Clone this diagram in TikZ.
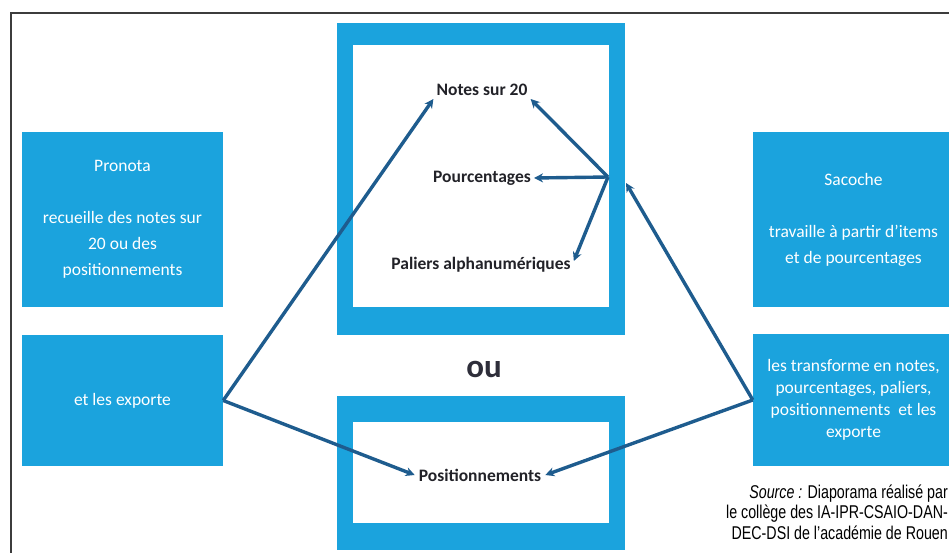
\documentclass[tikz,border=0pt]{standalone}
\usepackage{fontspec}
\setmainfont{Carlito}
\newfontfamily\srcfont[FakeStretch=0.77]{Liberation Sans}
\usetikzlibrary{arrows.meta}
\definecolor{boxblue}{RGB}{27,163,221}
\definecolor{arrowblue}{RGB}{30,92,142}
\definecolor{labeldark}{RGB}{34,34,40}
\definecolor{oucol}{RGB}{46,46,58}
\definecolor{framecol}{RGB}{60,60,60}
\tikzset{
  slidebox/.style={fill=boxblue, text=white, align=center, inner sep=0pt,
    minimum width=201pt, font=\fontsize{17.5}{26}\selectfont},
  tightbox/.style={slidebox, font=\fontsize{17.5}{22}\selectfont},
  lbl/.style={text=labeldark, font=\bfseries\fontsize{17.5}{20}\selectfont, inner sep=3pt},
  conn/.style={draw=arrowblue, line width=3.4pt, -{Stealth[length=9pt,width=9pt]}},
}
\begin{document}
\begin{tikzpicture}[x=1pt,y=-1pt]
\useasboundingbox (0,0) rectangle (949,553);
\fill[white] (0,0) rectangle (949,553);
\clip (0,0) rectangle (949,553);
% frame
\draw[framecol, line width=1.4pt] (11,560) -- (11,13) -- (960,13);
% centre frames
\fill[boxblue] (337,23) rectangle (625,335);
\fill[white] (353,45) rectangle (609,307);
\fill[boxblue] (337,396) rectangle (625,550);
\fill[white] (353,422) rectangle (609,523);
% side boxes
\node[slidebox, minimum height=175pt] (lt) at (122.5,219.5)
  {Pronota\\[26pt]recueille des notes sur\\20 ou des\\positionnements};
\node[slidebox, minimum height=131pt] (lb) at (122.5,400.5) {et les exporte};
\node[slidebox, minimum height=175pt] (rt) at (853.5,219.5)
  {Sacoche\\[26pt]travaille à partir d'items\\et de pourcentages};
\node[tightbox, minimum height=132pt] (rb) at (853.5,400)
  {les transforme en notes,\\pourcentages, paliers,\\positionnements\ \ et les\\exporte};
% labels
\node[lbl] (notes) at (482,90) {Notes sur 20};
\node[lbl] (pourc) at (482,178) {Pourcentages};
\node[lbl] (paliers) at (481,265) {Paliers alphanumériques};
\node[lbl, inner sep=4pt] (posit) at (480,475) {Positionnements};
\node[text=oucol, font=\bfseries\fontsize{33}{36}\selectfont, inner sep=0pt] (ou) at (484,369) {ou};
\node[anchor=east, align=right, inner sep=0pt, font=\srcfont\fontsize{18.5}{20.5}\selectfont] (src) at (948,512)
  {\textit{Source :} Diaporama réalisé par\\le collège des IA-IPR-CSAIO-DAN-\\DEC-DSI de l’académie de Rouen};
% connectors
\coordinate (hub) at (608,177);
\coordinate (hubin) at (626,183);
\draw[conn] (lb.east) -- (notes.south west);
\draw[conn] (lb.east) -- (posit.west);
\draw[conn] (rb.west) -- (posit.east);
\draw[conn] (rb.west) -- (hubin);
\draw[conn] (hub) -- (notes.south east);
\draw[conn] (hub) -- (pourc.east);
\draw[conn] (hub) -- ([yshift=4pt]paliers.east);
\end{tikzpicture}
\end{document}
